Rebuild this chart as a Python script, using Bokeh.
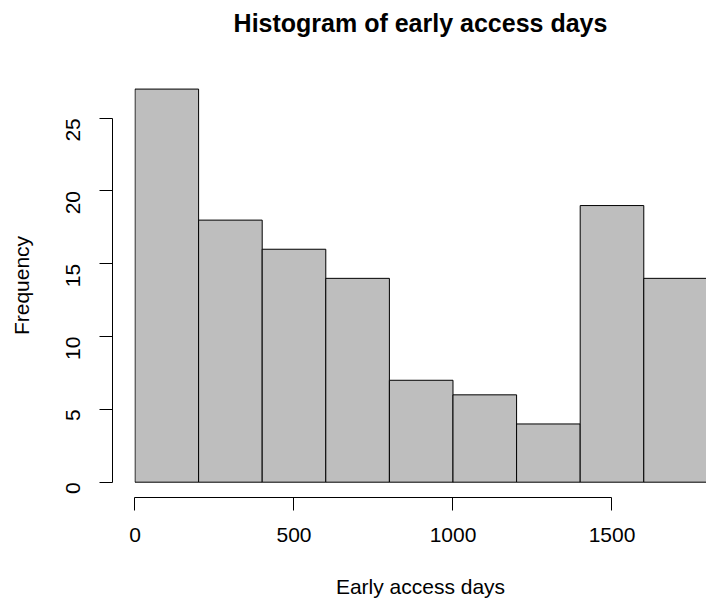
import math
from bokeh.plotting import figure
from bokeh.layouts import row
from bokeh.models import FixedTicker, Range1d, LinearAxis
from bokeh.embed import file_html
from bokeh.resources import INLINE

# Data
breaks = [0, 200, 400, 600, 800, 1000, 1200, 1400, 1600, 1800]
counts = [27, 18, 16, 14, 7, 6, 4, 19, 14]
x_ticks = [0, 500, 1000, 1500]
y_ticks = [0, 5, 10, 15, 20, 25]
title_text = "Histogram of early access days"
x_label = "Early access days"
y_label = "Frequency"

FONT = "Liberation Sans"

y_range = Range1d(-1.051, 28.07)


def style_axis(ax):
    ax.axis_line_color = "#000000"
    ax.axis_line_width = 1
    ax.major_tick_line_color = "#000000"
    ax.major_tick_line_width = 1
    ax.major_tick_out = 13
    ax.major_tick_in = 0
    ax.minor_tick_line_color = None
    ax.major_label_text_font = FONT
    ax.major_label_text_font_size = "21px"
    ax.major_label_text_color = "#000000"
    ax.axis_label_text_font = FONT
    ax.axis_label_text_font_size = "21px"
    ax.axis_label_text_font_style = "normal"
    ax.axis_label_text_color = "#000000"


def clean(fig):
    fig.outline_line_color = None
    fig.xgrid.visible = False
    fig.ygrid.visible = False
    fig.background_fill_color = "white"
    fig.border_fill_color = "white"


# Left strip: carries the detached y axis (R style)
left = figure(width=120, height=600, output_backend="svg", toolbar_location=None,
              x_range=Range1d(0, 1), y_range=y_range, x_axis_location=None,
              min_border_left=112, min_border_right=0, min_border_top=73, min_border_bottom=103)
clean(left)
style_axis(left.yaxis[0])
left.yaxis.ticker = FixedTicker(ticks=y_ticks)
left.yaxis.bounds = (0, 25)
left.yaxis.major_label_orientation = math.pi / 2
left.yaxis.major_label_standoff = 26
left.yaxis.axis_label = y_label
left.yaxis.axis_label_standoff = 24

# Main plot with the bars
p = figure(width=586, height=600, output_backend="svg", toolbar_location=None,
           x_range=Range1d(-1.57, 1797.2), y_range=y_range, y_axis_location=None,
           min_border_left=14, min_border_right=0, min_border_top=73, min_border_bottom=103)
clean(p)

p.quad(left=breaks[:-1], right=breaks[1:], bottom=[0] * len(counts), top=counts,
       fill_color="#BEBEBE", line_color="#000000", line_width=1)

style_axis(p.xaxis[0])
p.xaxis.ticker = FixedTicker(ticks=x_ticks)
p.xaxis.bounds = (0, 1500)
p.xaxis.major_label_standoff = 17
p.xaxis.axis_label = x_label
p.xaxis.axis_label_standoff = 30

# Main title drawn as the label of a bare axis above the frame
title_axis = LinearAxis(ticker=FixedTicker(ticks=[]), axis_line_color=None,
                        major_tick_line_color=None, minor_tick_line_color=None,
                        major_tick_out=0, major_tick_in=0, major_label_standoff=0,
                        axis_label=title_text, axis_label_standoff=37,
                        axis_label_text_font=FONT, axis_label_text_font_size="25px",
                        axis_label_text_font_style="bold", axis_label_text_color="#000000")
p.add_layout(title_axis, "above")

layout = row(left, p, spacing=0)

open("out.html", "w").write(file_html(layout, INLINE))
